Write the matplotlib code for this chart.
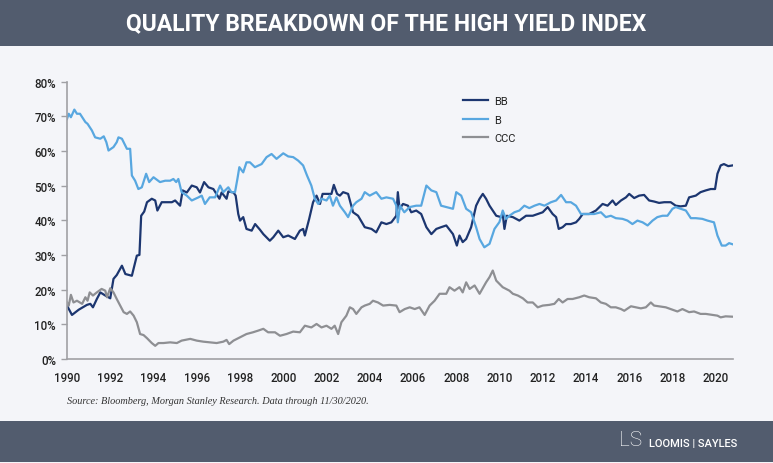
#!/usr/bin/env python3
"""
Quality breakdown of the high yield index (BB / B / CCC shares)
"""

import matplotlib
matplotlib.use('Agg')
import matplotlib.pyplot as plt
from matplotlib.patches import Rectangle
from matplotlib.ticker import FuncFormatter

# 数据 (读自原图, % of index)
bb_years = [1990.0, 1990.23, 1990.54, 1990.92, 1991.08, 1991.2, 1991.38, 1991.54, 1991.77, 1992.0,
            1992.15, 1992.3, 1992.54, 1992.7, 1993.0, 1993.23, 1993.35, 1993.43, 1993.57, 1993.7,
            1993.92, 1994.08, 1994.18, 1994.38, 1994.6, 1994.85, 1995.0, 1995.23, 1995.35, 1995.54,
            1995.77, 1996.0, 1996.15, 1996.34, 1996.54, 1996.77, 1997.05, 1997.15, 1997.38, 1997.46,
            1997.7, 1997.8, 1997.92, 1998.0, 1998.15, 1998.3, 1998.54, 1998.7, 1998.92, 1999.08,
            1999.38, 1999.54, 1999.77, 2000.0, 2000.23, 2000.54, 2000.77, 2000.92, 2001.0, 2001.2,
            2001.38, 2001.54, 2001.7, 2001.82, 2002.08, 2002.23, 2002.34, 2002.49, 2002.62, 2002.77,
            2003.0, 2003.23, 2003.46, 2003.77, 2004.08, 2004.3, 2004.54, 2004.77, 2005.0, 2005.23,
            2005.3, 2005.38, 2005.54, 2005.77, 2005.92, 2006.15, 2006.38, 2006.62, 2006.85, 2007.08,
            2007.3, 2007.54, 2007.85, 2008.03, 2008.15, 2008.3, 2008.46, 2008.69, 2008.92, 2009.08,
            2009.23, 2009.38, 2009.54, 2009.85, 2010.08, 2010.15, 2010.23, 2010.34, 2010.62, 2010.92,
            2011.23, 2011.54, 2011.77, 2012.0, 2012.23, 2012.46, 2012.62, 2012.74, 2012.92, 2013.08,
            2013.3, 2013.54, 2013.69, 2013.85, 2014.15, 2014.46, 2014.77, 2015.0, 2015.23, 2015.38,
            2015.62, 2015.85, 2016.0, 2016.23, 2016.46, 2016.69, 2016.92, 2017.15, 2017.38, 2017.62,
            2017.92, 2018.15, 2018.38, 2018.62, 2018.77, 2019.08, 2019.3, 2019.54, 2019.77, 2019.97,
            2020.08, 2020.23, 2020.38, 2020.58, 2020.77]
bb_values = [15.4, 12.7, 14.2, 15.6, 15.9, 14.9, 17.3, 19.2, 18.3, 17.5,
             23.1, 24.2, 26.9, 24.5, 24.0, 29.8, 30.0, 41.3, 42.5, 45.2,
             46.2, 45.7, 42.8, 45.2, 45.2, 45.2, 45.7, 44.2, 48.6, 48.0,
             50.0, 49.5, 48.0, 51.0, 49.5, 49.0, 46.2, 48.0, 46.2, 48.3,
             48.0, 47.1, 41.8, 39.9, 40.9, 37.5, 37.0, 38.9, 37.3, 36.0,
             34.1, 35.1, 37.0, 35.1, 35.6, 34.6, 37.0, 37.5, 35.6, 40.4,
             45.2, 47.1, 44.7, 47.6, 47.6, 47.6, 50.2, 47.6, 47.1, 48.1,
             47.6, 42.3, 41.3, 38.0, 37.5, 36.5, 39.4, 38.9, 39.4, 41.3,
             48.1, 43.3, 44.7, 44.2, 42.3, 42.8, 41.8, 38.0, 36.0, 37.5,
             38.0, 38.5, 36.0, 32.7, 35.6, 33.7, 34.6, 38.0, 44.2, 46.2,
             47.6, 46.2, 44.2, 41.3, 40.9, 41.8, 37.5, 41.3, 40.9, 39.9,
             41.3, 41.3, 41.8, 42.3, 43.8, 41.8, 40.9, 37.5, 38.0, 38.9,
             38.9, 39.4, 40.4, 41.8, 41.8, 42.8, 44.7, 44.2, 45.7, 44.4,
             45.7, 46.6, 47.6, 46.4, 47.1, 47.3, 45.7, 45.4, 45.0, 45.2,
             45.2, 44.2, 44.0, 44.2, 46.6, 47.1, 48.1, 48.6, 49.0, 49.0,
             53.4, 55.8, 56.2, 55.6, 55.8]

b_years = [1990.0, 1990.08, 1990.18, 1990.34, 1990.46, 1990.6, 1990.85, 1990.95, 1991.15, 1991.3,
           1991.54, 1991.7, 1991.82, 1991.92, 1992.15, 1992.3, 1992.38, 1992.54, 1992.77, 1992.92,
           1993.0, 1993.15, 1993.3, 1993.46, 1993.66, 1993.8, 1994.0, 1994.3, 1994.54, 1994.77,
           1994.92, 1995.05, 1995.15, 1995.3, 1995.54, 1995.77, 1996.08, 1996.23, 1996.38, 1996.6,
           1996.85, 1997.08, 1997.23, 1997.46, 1997.6, 1997.77, 1997.88, 1997.97, 1998.15, 1998.3,
           1998.46, 1998.69, 1999.0, 1999.23, 1999.46, 1999.69, 2000.0, 2000.23, 2000.46, 2000.69,
           2000.92, 2001.1, 2001.3, 2001.46, 2001.62, 2001.77, 2002.0, 2002.15, 2002.3, 2002.46,
           2002.62, 2002.85, 2003.0, 2003.23, 2003.38, 2003.62, 2003.77, 2004.0, 2004.3, 2004.54,
           2004.77, 2005.08, 2005.23, 2005.3, 2005.4, 2005.6, 2005.85, 2006.15, 2006.38, 2006.62,
           2006.85, 2007.08, 2007.3, 2007.54, 2007.85, 2008.0, 2008.23, 2008.46, 2008.69, 2008.92,
           2009.08, 2009.3, 2009.54, 2009.77, 2010.0, 2010.15, 2010.3, 2010.46, 2010.69, 2010.92,
           2011.15, 2011.38, 2011.62, 2011.85, 2012.08, 2012.38, 2012.62, 2012.85, 2013.08, 2013.3,
           2013.54, 2013.77, 2014.08, 2014.38, 2014.69, 2014.92, 2015.15, 2015.38, 2015.69, 2015.92,
           2016.15, 2016.38, 2016.62, 2016.85, 2017.08, 2017.3, 2017.54, 2017.77, 2018.0, 2018.15,
           2018.38, 2018.62, 2018.85, 2019.08, 2019.38, 2019.62, 2019.92, 2020.08, 2020.28, 2020.46,
           2020.62, 2020.77]
b_values = [69.2, 70.7, 69.7, 71.9, 70.7, 70.7, 68.3, 67.8, 65.9, 63.9,
            63.5, 64.2, 62.5, 60.1, 61.1, 62.5, 63.9, 63.5, 60.6, 60.6,
            52.9, 51.4, 49.0, 49.5, 53.4, 51.0, 52.4, 51.0, 51.4, 51.4,
            51.9, 51.0, 51.9, 48.1, 47.1, 45.7, 46.6, 47.1, 44.7, 46.6,
            46.6, 50.0, 48.1, 49.5, 48.1, 48.1, 51.9, 55.3, 53.8, 56.7,
            56.7, 55.3, 56.2, 58.2, 59.1, 57.7, 59.3, 58.4, 58.2, 57.2,
            55.8, 52.9, 50.0, 46.2, 44.7, 46.2, 45.7, 47.1, 44.2, 46.6,
            44.2, 42.3, 40.9, 44.2, 45.2, 46.2, 48.1, 47.1, 48.1, 46.2,
            46.6, 46.2, 44.2, 39.4, 44.2, 42.3, 43.8, 44.2, 44.2, 50.0,
            48.6, 48.1, 44.2, 43.8, 43.3, 48.1, 47.1, 43.3, 42.3, 38.0,
            34.6, 32.2, 33.2, 37.5, 39.5, 42.8, 40.4, 41.3, 42.3, 42.8,
            44.2, 43.5, 44.2, 44.7, 44.2, 45.2, 45.7, 47.3, 45.2, 45.2,
            44.2, 41.8, 41.8, 41.8, 42.3, 40.9, 41.3, 40.6, 40.4, 39.9,
            38.9, 39.9, 39.4, 38.5, 39.9, 40.9, 41.3, 41.3, 43.3, 43.8,
            43.3, 42.8, 40.6, 40.6, 40.4, 39.9, 39.4, 35.6, 32.7, 32.7,
            33.4, 33.1]

ccc_years = [1990.0, 1990.08, 1990.18, 1990.3, 1990.46, 1990.7, 1990.85, 1990.95, 1991.05, 1991.2,
             1991.38, 1991.6, 1991.77, 1991.85, 1992.0, 1992.15, 1992.3, 1992.46, 1992.62, 1992.77,
             1992.92, 1993.08, 1993.23, 1993.38, 1993.54, 1993.7, 1993.92, 1994.08, 1994.23, 1994.46,
             1994.77, 1995.08, 1995.3, 1995.7, 1996.0, 1996.3, 1996.6, 1996.92, 1997.23, 1997.38,
             1997.5, 1997.7, 1998.0, 1998.3, 1998.6, 1998.85, 1999.08, 1999.3, 1999.62, 1999.85,
             2000.15, 2000.46, 2000.77, 2001.0, 2001.3, 2001.54, 2001.77, 2002.0, 2002.23, 2002.38,
             2002.54, 2002.69, 2002.92, 2003.08, 2003.23, 2003.38, 2003.62, 2003.77, 2004.0, 2004.15,
             2004.38, 2004.62, 2004.92, 2005.23, 2005.38, 2005.62, 2005.85, 2006.08, 2006.3, 2006.54,
             2006.77, 2007.0, 2007.23, 2007.54, 2007.69, 2007.92, 2008.15, 2008.3, 2008.46, 2008.62,
             2008.85, 2009.08, 2009.38, 2009.54, 2009.69, 2009.85, 2010.15, 2010.46, 2010.62, 2010.85,
             2011.08, 2011.3, 2011.54, 2011.77, 2012.0, 2012.3, 2012.54, 2012.74, 2012.92, 2013.15,
             2013.38, 2013.69, 2013.92, 2014.15, 2014.46, 2014.69, 2014.92, 2015.15, 2015.38, 2015.62,
             2015.77, 2016.08, 2016.3, 2016.54, 2016.77, 2017.0, 2017.15, 2017.38, 2017.69, 2018.0,
             2018.23, 2018.46, 2018.77, 2019.0, 2019.3, 2019.54, 2019.85, 2020.08, 2020.23, 2020.46,
             2020.77]
ccc_values = [16.3, 15.4, 18.5, 16.3, 16.8, 15.9, 17.8, 16.8, 19.2, 18.3,
              19.2, 20.2, 19.7, 17.8, 20.4, 19.2, 17.3, 15.4, 13.5, 13.0,
              13.7, 12.5, 10.6, 7.2, 6.9, 6.0, 4.6, 3.8, 4.6, 4.6,
              4.8, 4.6, 5.3, 5.8, 5.3, 5.0, 4.8, 4.6, 5.0, 5.5,
              4.3, 5.3, 6.25, 7.2, 7.7, 8.2, 8.7, 7.7, 7.7, 6.7,
              7.2, 7.9, 7.7, 9.6, 9.1, 10.1, 9.1, 9.6, 8.7, 9.6,
              7.2, 10.6, 12.5, 14.9, 14.4, 13.0, 14.9, 15.4, 15.9, 16.8,
              16.3, 15.4, 15.6, 15.4, 13.5, 14.4, 14.9, 14.4, 14.9, 12.7,
              15.4, 16.8, 18.8, 18.8, 20.7, 19.7, 20.7, 19.2, 22.1, 20.2,
              21.2, 18.8, 22.1, 23.6, 25.5, 22.6, 20.7, 19.7, 18.8, 18.3,
              17.5, 16.3, 16.3, 14.9, 15.4, 15.6, 15.9, 17.3, 16.3, 17.3,
              17.3, 17.8, 18.3, 17.8, 17.5, 16.3, 15.9, 14.9, 14.9, 14.4,
              13.9, 15.2, 14.9, 14.6, 14.9, 16.3, 15.4, 15.2, 14.9, 14.2,
              13.7, 14.4, 13.5, 13.7, 13.0, 13.0, 12.7, 12.5, 12.0, 12.3,
              12.2]

x_ticks = list(range(1990, 2021, 2))
y_ticks = list(range(0, 81, 10))

TITLE = 'QUALITY BREAKDOWN OF THE HIGH YIELD INDEX'
SOURCE = 'Source: Bloomberg, Morgan Stanley Research. Data through 11/30/2020.'

# 颜色
BAR_COLOR = '#525c6e'
BG_COLOR = '#f4f5f9'
BB_COLOR = '#1c3670'
B_COLOR = '#58a7e0'
CCC_COLOR = '#8e8f93'
AXIS_COLOR = '#a0a0a4'

plt.rcParams['font.family'] = ['Roboto', 'DejaVu Sans']

W, H = 773, 464
fig = plt.figure(figsize=(W / 100, H / 100), dpi=100, facecolor=BG_COLOR)

# 标题栏和底栏
fig.patches.append(Rectangle((0, 1 - 47 / H), 1, 46 / H, transform=fig.transFigure,
                             facecolor=BAR_COLOR, edgecolor='none', zorder=0))
fig.patches.append(Rectangle((0, 1 - 1 / H), 1, 1 / H, transform=fig.transFigure,
                             facecolor='#aeb2bb', edgecolor='none', zorder=0))
fig.patches.append(Rectangle((0, 1 / H), 1, 41 / H, transform=fig.transFigure,
                             facecolor=BAR_COLOR, edgecolor='none', zorder=0))

fig.text(0.5, 1 - 24 / H, TITLE, color='white', fontsize=16.5, fontweight='bold',
         ha='center', va='center')

ax = fig.add_axes([67 / W, 1 - 360 / H, (733 - 67) / W, (360 - 82.5) / H])
ax.set_facecolor(BG_COLOR)

ax.plot(bb_years, bb_values, color=BB_COLOR, lw=1.6, label='BB')
ax.plot(b_years, b_values, color=B_COLOR, lw=1.6, label='B')
ax.plot(ccc_years, ccc_values, color=CCC_COLOR, lw=1.6, label='CCC')

ax.set_xlim(1990, 2020.8)
ax.set_ylim(0, 80)
ax.set_xticks(x_ticks)
ax.set_yticks(y_ticks)
ax.yaxis.set_major_formatter(FuncFormatter(lambda v, p: f'{v:.0f}%'))

for side in ['top', 'right']:
    ax.spines[side].set_visible(False)
for side in ['left', 'bottom']:
    ax.spines[side].set_color(AXIS_COLOR)
    ax.spines[side].set_linewidth(1.2)

ax.tick_params(axis='x', length=0, pad=9, labelsize=8.3, labelcolor='#222222')
ax.tick_params(axis='y', length=4, width=1, color=AXIS_COLOR, pad=4,
               labelsize=8.3, labelcolor='#222222')
for lbl in ax.get_xticklabels() + ax.get_yticklabels():
    lbl.set_fontweight('medium')

leg = ax.legend(loc='upper left', bbox_to_anchor=(463 / W, 1 - 97 / H),
                bbox_transform=fig.transFigure, frameon=False, fontsize=8,
                borderpad=0, borderaxespad=0, handlelength=2.25,
                handletextpad=0.55, labelspacing=0.78)
for t in leg.get_texts():
    t.set_color('#222222')

fig.text(67 / W, 1 - 402 / H, SOURCE, fontsize=7.4, style='italic', color='#333333',
         family='Liberation Serif', ha='left', va='center')

# 底栏 logo
fig.text(619 / W, 1 - 441 / H, 'LS', fontsize=15, fontweight='light', color='white',
         ha='left', va='center')
fig.text(649 / W, 1 - 444 / H, 'LOOMIS | SAYLES', fontsize=8, fontweight='medium',
         color='white', ha='left', va='center')

fig.savefig('out.png', dpi=100, facecolor=BG_COLOR)
